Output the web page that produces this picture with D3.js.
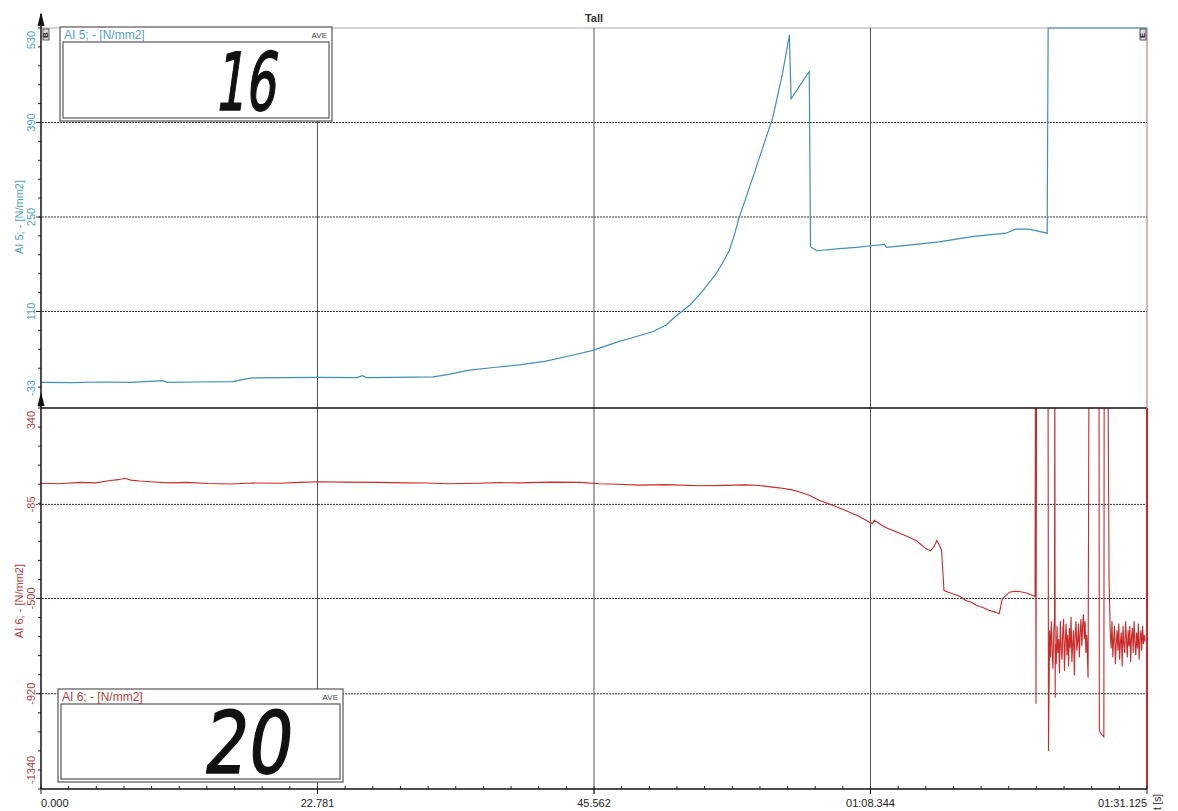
<!DOCTYPE html>
<html>
<head>
<meta charset="utf-8">
<script src="https://cdn.jsdelivr.net/npm/d3@7/dist/d3.min.js"></script>
<style>
  html, body { margin: 0; padding: 0; background: #fff; }
  svg { display: block; font-family: "Liberation Sans", Arial, sans-serif; }
</style>
</head>
<body>
<svg id="chart" width="1178" height="811"></svg>
<script>
// ---- time axis ----
const timeTicks = [0, 22.781, 45.562, 68.344, 91.125];
const timeTickLabels = ["0.000", "22.781", "45.562", "01:08.344", "01:31.125"];

// ---- AI 5 channel (upper panel) ----
const ai5Ticks = [530, 390, 250, 110, -33];
const ai5Time = [0, 2.5, 5, 7.5, 10, 10.4, 13, 15.8, 16.6, 17.4, 20, 23, 26, 26.5, 26.8, 29, 32.3,
  33.5, 35.3, 37.3, 39.4, 41.5, 43.5, 45.4, 47.7, 48.5, 50.4, 51.5, 52.3, 53.5, 54.5, 55.5, 56.1, 56.7,
  57.1, 57.5, 58.9, 60.3, 61.1, 61.66, 61.8, 63.2, 63.3, 63.4, 63.9, 65.8, 67.2, 68.2, 69.5, 69.65,
  71.3, 74, 76.7, 79.5, 80.3, 81.4, 82.9, 82.98, 91.125];
const ai5Value = [5, 4.5, 5.5, 5, 7.5, 5, 5.5, 6, 9, 11.5, 12, 12.5, 12, 15, 12, 12.5, 13,
  16.5, 23, 27, 31, 36, 44, 52, 66, 70, 80, 90, 103, 120, 140, 163, 180, 200,
  222, 248, 322, 398, 463, 520, 425, 463, 465, 206, 200, 203, 205, 207, 209.5, 205,
  208, 213, 221, 226, 232, 232, 226, 530, 530];

// ---- AI 6 channel (lower panel) ----
const ai6Ticks = [340, -85, -500, -920, -1340];
const ai6Time = [0, 1.5, 3.2, 4.5, 5.7, 6.4, 6.9, 7.4, 8.15, 9.3, 10.6, 12, 13.8, 15.6, 17.5,
  19.7, 21.3, 23, 25, 27.9, 30, 31.8, 33.7, 36, 37.8, 39.4, 42, 44.4, 46, 47.5, 49.3, 51.5,
  54.2, 56.5, 58, 59.2, 60.8, 61.8, 62.5, 63.3, 64.1, 65, 66.2, 67.3, 68.5, 68.65, 69.5, 70.5,
  71.2, 72.1, 72.5, 72.9, 73.3, 73.6, 73.8, 74.0, 74.2, 74.4, 75.1, 75.7, 76.2, 76.7, 77.1,
  77.6, 78.1, 78.6, 78.95, 79.2, 79.8, 80.2, 80.6, 81.2, 81.7, 81.9, 81.94, 81.98, 82.03, 82.97,
  83.01, 83.53, 83.56, 86.27, 86.35, 87.17, 87.2, 87.4, 87.57, 87.6, 87.9, 88.0];
const ai6Value = [8, 6, 12, 10, 20, 24, 30, 22, 18, 14, 10, 12, 7, 5, 9,
  8, 12, 15, 13, 12, 10, 9, 6, 8, 11, 10, 13, 12, 6, 4, 0, 2,
  -3, -1, 1, -2, -12, -20, -30, -45, -67, -84, -110, -135, -170, -155, -185, -207,
  -222, -244, -262, -280, -290, -270, -244, -262, -288, -465, -479, -490, -509, -518, -531,
  -540, -552, -560, -567, -501, -472, -468, -469, -476, -487, -490, 600, -964, 600, 600,
  -1172, 600, -938, -849, 600, 600, -1084, -1100, -1110, 600, 600, -420];
// oscillating sections after failure, sampled every 0.068 s / 0.07 s
const ai6BurstA = [-640, -760, -600, -720, -810, -650, -580, -700, -790, -620, -740, -680, -830,
  -600, -710, -770, -640, -590, -820, -690, -610, -750, -660, -800, -630, -720, -580, -780, -700,
  -640, -840, -660, -600, -730, -690, -610, -760, -650, -590, -710, -620, -570, -680, -600, -740, -660];
const ai6BurstB = [-650, -720, -600, -760, -680, -620, -790, -700, -640, -730, -610, -770, -690,
  -650, -800, -620, -700, -740, -600, -680, -760, -640, -710, -620, -780, -670, -630, -740, -600,
  -690, -750, -650, -720, -610, -770, -680, -640, -730, -620, -700, -660, -690];

// ---- display readouts ----
const readoutLabels = ["AI 5; - [N/mm2]", "AI 6; - [N/mm2]"];
const readoutValues = ["16", "20"];

// ---- layout ----
const L = 41, R = 1147, T1 = 28, B1 = 408, B2 = 789;
const blue = "#3f8dbd", blueText = "#4f9fc6";
const red = "#c92a2a", redText = "#b0413e";

const svg = d3.select("#chart");
const x = d3.scaleLinear().domain([0, 91.125]).range([L, R]);
const yTop = d3.scaleLinear().domain([-33, 530]).range([B1, T1]);
const yBot = d3.scaleLinear().domain([-1340, 340]).range([B2, B1]);

const defs = svg.append("defs");
defs.append("clipPath").attr("id", "clipTop").append("rect")
  .attr("x", L).attr("y", T1 - 1).attr("width", R - L).attr("height", B1 - T1 + 1);
defs.append("clipPath").attr("id", "clipBot").append("rect")
  .attr("x", L).attr("y", B1).attr("width", R - L).attr("height", B2 - B1);

// title
svg.append("text").attr("x", x(45.562)).attr("y", 22).attr("text-anchor", "middle")
  .attr("font-size", 11).attr("font-weight", "bold").attr("fill", "#333").text("Tall");

// top border
svg.append("line").attr("x1", L).attr("x2", R).attr("y1", T1).attr("y2", T1)
  .attr("stroke", "#aaa").attr("stroke-width", 1);

// horizontal grid (dotted)
const hGrid = svg.append("g");
hGrid.selectAll("line.t").data(ai5Ticks.slice(1, -1)).join("line")
  .attr("x1", L - 5).attr("x2", R).attr("y1", d => yTop(d)).attr("y2", d => yTop(d))
  .attr("stroke", "#333").attr("stroke-width", 1).attr("stroke-dasharray", "2,1");
hGrid.selectAll("line.b").data(ai6Ticks.slice(1, -1)).join("line")
  .attr("x1", L - 5).attr("x2", R).attr("y1", d => yBot(d)).attr("y2", d => yBot(d))
  .attr("stroke", "#333").attr("stroke-width", 1).attr("stroke-dasharray", "2,1");

// vertical grid (solid)
svg.append("g").selectAll("line").data(timeTicks.slice(1, -1)).join("line")
  .attr("x1", d => x(d)).attr("x2", d => x(d)).attr("y1", T1).attr("y2", B2 + 5)
  .attr("stroke", "#555").attr("stroke-width", 1);

// data traces
const ai5Pts = ai5Time.map((t, i) => [t, ai5Value[i]]);
const stepA = 0.068, stepB = 0.07;
const ai6Pts = ai6Time.map((t, i) => [t, ai6Value[i]])
  .concat(ai6BurstA.map((v, i) => [83.1 + i * stepA, v]))
  .concat(ai6BurstB.map((v, i) => [88.1 + i * stepB, v]))
  .sort((a, b) => a[0] - b[0]);

svg.append("path").datum(ai5Pts).attr("clip-path", "url(#clipTop)")
  .attr("d", d3.line().x(d => x(d[0])).y(d => yTop(d[1])))
  .attr("fill", "none").attr("stroke", blue).attr("stroke-width", 1.2);
svg.append("path").datum(ai6Pts).attr("clip-path", "url(#clipBot)")
  .attr("d", d3.line().x(d => x(d[0])).y(d => yBot(d[1])))
  .attr("fill", "none").attr("stroke", red).attr("stroke-width", 1.1);

// panel separator and right edge
svg.append("line").attr("x1", L).attr("x2", R).attr("y1", B1).attr("y2", B1)
  .attr("stroke", "#111").attr("stroke-width", 1.5);
svg.append("line").attr("x1", R).attr("x2", R).attr("y1", T1).attr("y2", B1)
  .attr("stroke", "#b76a6a").attr("stroke-width", 1);
svg.append("line").attr("x1", R).attr("x2", R).attr("y1", B1).attr("y2", B2)
  .attr("stroke", red).attr("stroke-width", 2);

// bottom time axis
const xa = svg.append("g");
xa.append("line").attr("x1", L).attr("x2", R).attr("y1", B2).attr("y2", B2)
  .attr("stroke", "#111").attr("stroke-width", 1.3);
xa.selectAll("line.minor").data(d3.range(0, 41).map(i => i * 91.125 / 40)).join("line")
  .attr("x1", d => x(d)).attr("x2", d => x(d)).attr("y1", B2 - 3).attr("y2", B2)
  .attr("stroke", "#222");
xa.selectAll("line.major").data(timeTicks).join("line")
  .attr("x1", d => x(d)).attr("x2", d => x(d)).attr("y1", B2).attr("y2", B2 + 5)
  .attr("stroke", "#222");
xa.selectAll("text").data(timeTicks).join("text")
  .attr("x", d => x(d)).attr("y", 807)
  .attr("text-anchor", (d, i) => i === 0 ? "start" : (i === timeTicks.length - 1 ? "end" : "middle"))
  .attr("font-size", 11).attr("fill", "#222")
  .text((d, i) => timeTickLabels[i]);
svg.append("text").attr("transform", "translate(1161,810) rotate(-90)")
  .attr("font-size", 10).attr("fill", "#222").text("t [s]");

// left axis line with arrows
svg.append("line").attr("x1", L).attr("x2", L).attr("y1", 14).attr("y2", B2)
  .attr("stroke", "#111").attr("stroke-width", 1.5);
svg.append("path").attr("d", `M${L},12 L${L - 3.5},26 L${L + 3.5},26 Z`).attr("fill", "#111");
svg.append("path").attr("d", `M${L},392 L${L - 3.5},406 L${L + 3.5},406 Z`).attr("fill", "#111");

// left axis minor ticks
const ya = svg.append("g");
ya.selectAll("line.tm").data(d3.range(-21, 6).map(k => 390 + 28 * k).filter(v => v >= -33 && v <= 530)).join("line")
  .attr("x1", L - 3).attr("x2", L).attr("y1", d => yTop(d)).attr("y2", d => yTop(d)).attr("stroke", "#222");
ya.selectAll("line.bm").data(d3.range(-10, 11).map(k => -500 + 84 * k)).join("line")
  .attr("x1", L - 3).attr("x2", L).attr("y1", d => yBot(d)).attr("y2", d => yBot(d)).attr("stroke", "#222");

// tick labels (rotated)
function tickLabel(scale, ticks, color) {
  ya.selectAll(null).data(ticks).join("text")
    .attr("transform", (d, i) => {
      let y = scale(d);
      if (i === 0) y += 3;
      if (i === ticks.length - 1) y -= (color === blueText ? 12 : 5);
      return `translate(35,${y}) rotate(-90)`;
    })
    .attr("text-anchor", (d, i) => i === 0 ? "end" : (i === ticks.length - 1 ? "start" : "middle"))
    .attr("font-size", 11).attr("fill", color).text(d => d);
}
tickLabel(yTop, ai5Ticks, blueText);
tickLabel(yBot, ai6Ticks, redText);

svg.append("text").attr("transform", `translate(23,${yTop(250)}) rotate(-90)`)
  .attr("text-anchor", "middle").attr("font-size", 11).attr("fill", blueText).text(readoutLabels[0]);
svg.append("text").attr("transform", `translate(23,601) rotate(-90)`)
  .attr("text-anchor", "middle").attr("font-size", 11).attr("fill", redText).text(readoutLabels[1]);

// small channel markers
function marker(xp, yp, letter) {
  const g = svg.append("g");
  g.append("rect").attr("x", xp).attr("y", yp).attr("width", 6).attr("height", 11)
    .attr("fill", "#ddd").attr("stroke", "#333").attr("stroke-width", 0.8);
  g.append("text").attr("transform", `translate(${xp + 5},${yp + 9}) rotate(-90)`)
    .attr("font-size", 8).attr("font-weight", "bold").attr("fill", "#222").text(letter);
}
marker(43, 29, "B");
marker(1140, 29, "E");

// readout boxes
function readout(bx, by, bw, bh, label, value, color, digitRight, digitBase, size, sx) {
  const g = svg.append("g");
  g.append("rect").attr("x", bx).attr("y", by).attr("width", bw).attr("height", bh)
    .attr("fill", "#fff").attr("stroke", "#555").attr("stroke-width", 1.2);
  g.append("rect").attr("x", bx + 3).attr("y", by + 15).attr("width", bw - 6).attr("height", bh - 18)
    .attr("fill", "#fff").attr("stroke", "#555").attr("stroke-width", 1.2);
  g.append("text").attr("x", bx + 4).attr("y", by + 12).attr("font-size", 12).attr("fill", color).text(label);
  g.append("text").attr("x", bx + bw - 5).attr("y", by + 11).attr("text-anchor", "end")
    .attr("font-size", 8).attr("fill", "#444").text("AVE");
  g.append("text").attr("transform", `translate(${digitRight},${digitBase}) skewX(-8) scale(${sx},1)`)
    .attr("text-anchor", "end").attr("font-family", "DejaVu Sans").attr("font-size", size)
    .attr("fill", "#111").attr("stroke", "#111").attr("stroke-width", 1.5).text(value);
}
readout(60, 27, 272, 94, readoutLabels[0], readoutValues[0], blueText, 275, 110, 80, 0.6);
readout(58, 689, 285, 93, readoutLabels[1], readoutValues[1], redText, 289, 773, 86, 0.8);
</script>
</body>
</html>
